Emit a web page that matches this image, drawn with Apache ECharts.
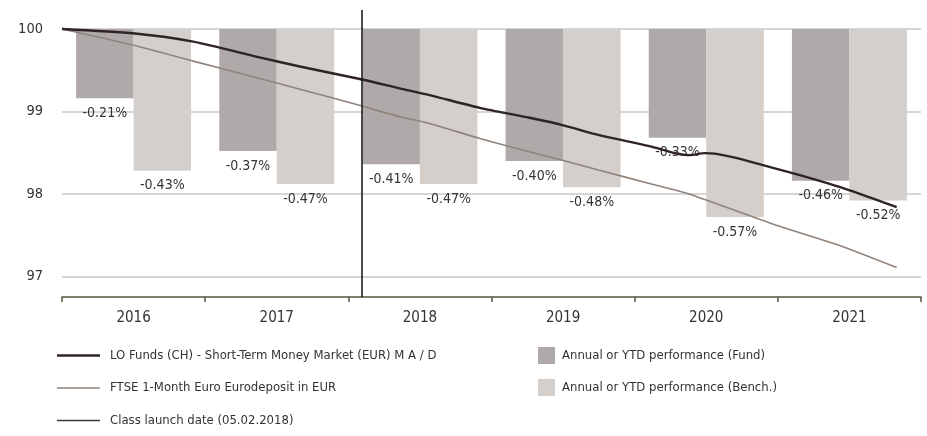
<!DOCTYPE html>
<html>
<head>
<meta charset="utf-8">
<script src="https://cdn.jsdelivr.net/npm/echarts@6/dist/echarts.min.js"></script>
<style>
  html, body { margin: 0; padding: 0; background: #fff; }
  #chart { width: 927px; height: 436px; }
</style>
</head>
<body>
<div id="chart"></div>
<script>
const years = ['2016', '2017', '2018', '2019', '2020', '2021']
const fundPerf = [-0.21, -0.37, -0.41, -0.40, -0.33, -0.46]
const benchPerf = [-0.43, -0.47, -0.47, -0.48, -0.57, -0.52]
const yTicks = [97, 98, 99, 100]

const fundDates = ['2016-01-01', '2016-07-05', '2016-12-01', '2017-05-19', '2017-08-30', '2018-02-05',
  '2018-05-12', '2018-07-27', '2018-12-02', '2019-04-08', '2019-07-01', '2019-10-03', '2020-02-08',
  '2020-04-13', '2020-05-21', '2020-06-28', '2020-07-24', '2020-09-13', '2020-11-23', '2021-02-26',
  '2021-07-03', '2021-10-31']
const fundValues = [100, 99.945, 99.846, 99.655, 99.545, 99.387,
  99.28, 99.198, 99.044, 98.923, 98.834, 98.712, 98.579,
  98.494, 98.47, 98.494, 98.488, 98.44, 98.35, 98.227,
  98.044, 97.84]

const benchDates = ['2016-01-01', '2016-07-05', '2016-12-01', '2017-05-19', '2017-08-30',
  '2018-02-05', '2018-05-12', '2018-07-27', '2018-12-02', '2019-04-08', '2019-07-01', '2019-10-03',
  '2020-02-08', '2020-05-21', '2020-12-28', '2021-06-04', '2021-10-31']
const benchValues = [100, 99.80, 99.61, 99.40, 99.27,
  99.065, 98.935, 98.855, 98.672, 98.51, 98.409, 98.287,
  98.126, 97.996, 97.62, 97.38, 97.107]

const launchDate = '2018-02-05'

// index axis range; the launch line rises a little above 100
const yMin = 96.75
const yMax = 100.23
// bars: 1 point on the index = 0.25%
const barScale = 4

const FONT = '"Liberation Sans Narrow", "DejaVu Sans Condensed", sans-serif'
const TXT = '#333'
const FUND_LINE = '#2e2325'
const BENCH_LINE = '#8f837b'
const LAUNCH_LINE = '#3a3a3a'

const zip = (a, b) => a.map((d, i) => [d, b[i]])
const lineIcon = h => 'path://M0 0H43V' + h + 'H0Z'

let myChart = echarts.init(document.getElementById('chart'))

const option = {
  animation: false,
  textStyle: { fontFamily: FONT },
  grid: { left: 62, right: 6, top: 10, bottom: 139 },
  legend: [
    {
      orient: 'vertical', left: 52, top: 344, itemGap: 19.5,
      itemWidth: 43, itemHeight: 14, selectedMode: false,
      textStyle: { fontFamily: FONT, fontSize: 13, color: TXT, padding: [0, 0, 0, 5] },
      data: [
        { name: 'LO Funds (CH) - Short-Term Money Market (EUR) M A / D', icon: lineIcon(2.4), itemStyle: { color: FUND_LINE } },
        { name: 'FTSE 1-Month Euro Eurodeposit in EUR', icon: lineIcon(1.6), itemStyle: { color: BENCH_LINE } },
        { name: 'Class launch date (05.02.2018)', icon: lineIcon(1.5), itemStyle: { color: LAUNCH_LINE } }
      ]
    },
    {
      orient: 'vertical', left: 533, top: 342, itemGap: 15,
      itemWidth: 17, itemHeight: 17, icon: 'rect', selectedMode: false,
      textStyle: { fontFamily: FONT, fontSize: 13, color: TXT, padding: [0, 0, 0, 2] },
      data: ['Annual or YTD performance (Fund)', 'Annual or YTD performance (Bench.)']
    }
  ],
  xAxis: [
    {
      type: 'category', data: years,
      axisLine: { onZero: false, lineStyle: { color: '#55553f', width: 1.5 } },
      axisTick: { show: true, length: 5, lineStyle: { color: '#55553f', width: 1.5 } },
      axisLabel: { color: TXT, fontSize: 15, fontFamily: FONT, margin: 14 },
      splitLine: { show: false }
    },
    {
      type: 'time', min: '2016-01-01', max: '2022-01-01', show: false
    }
  ],
  yAxis: [
    {
      type: 'value', min: yMin, max: yMax,
      axisLine: { show: false },
      axisTick: { show: false, customValues: yTicks },
      axisLabel: { color: TXT, fontSize: 14.5, fontFamily: FONT, margin: 19, customValues: yTicks },
      splitLine: { lineStyle: { color: '#c8c8c8', width: 1.5 } }
    },
    {
      type: 'value', min: (yMin - 100) / barScale, max: (yMax - 100) / barScale, show: false
    }
  ],
  series: [
    {
      name: 'Annual or YTD performance (Fund)', type: 'bar',
      xAxisIndex: 0, yAxisIndex: 1, data: fundPerf,
      barWidth: 57.5, barGap: '0%', z: 1,
      itemStyle: { color: '#afaaa9' },
      label: {
        show: true, position: 'bottom', distance: 8,
        color: TXT, fontSize: 14, fontFamily: FONT,
        formatter: p => p.value.toFixed(2) + '%'
      }
    },
    {
      name: 'Annual or YTD performance (Bench.)', type: 'bar',
      xAxisIndex: 0, yAxisIndex: 1, data: benchPerf,
      barWidth: 57.5, barGap: '0%', z: 1,
      itemStyle: { color: '#d4cfcb' },
      label: {
        show: true, position: 'bottom', distance: 8,
        color: TXT, fontSize: 14, fontFamily: FONT,
        formatter: p => p.value.toFixed(2) + '%'
      }
    },
    {
      name: 'FTSE 1-Month Euro Eurodeposit in EUR', type: 'line',
      xAxisIndex: 1, yAxisIndex: 0, data: zip(benchDates, benchValues),
      symbol: 'none', smooth: 0.15, z: 3,
      color: BENCH_LINE, lineStyle: { color: BENCH_LINE, width: 1.6 }
    },
    {
      name: 'LO Funds (CH) - Short-Term Money Market (EUR) M A / D', type: 'line',
      xAxisIndex: 1, yAxisIndex: 0, data: zip(fundDates, fundValues),
      symbol: 'none', smooth: 0.25, z: 4,
      color: FUND_LINE, lineStyle: { color: FUND_LINE, width: 2.4 }
    },
    {
      name: 'Class launch date (05.02.2018)', type: 'line',
      xAxisIndex: 1, yAxisIndex: 0, data: [[launchDate, 100]],
      symbol: 'none', showSymbol: false, z: 5,
      color: LAUNCH_LINE, lineStyle: { color: LAUNCH_LINE, width: 1.5 },
      markLine: {
        silent: true, symbol: 'none', label: { show: false },
        lineStyle: { color: '#111', width: 1.5, type: 'solid' },
        data: [{ xAxis: launchDate }]
      }
    }
  ]
}

myChart.setOption(option)
</script>
</body>
</html>
